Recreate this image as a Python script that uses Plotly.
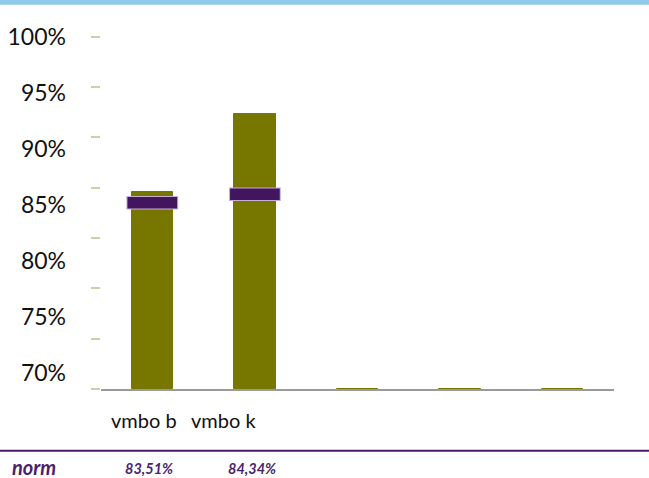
import plotly.graph_objects as go

# ---- data ----
categories = ["vmbo b", "vmbo k", "", "", ""]
scores = [84.6, 92.3, 0, 0, 0]          # % (bars)
norm = [83.51, 84.34]                   # % (norm markers, first two categories)
tick_values = [65, 70, 75, 80, 85, 90, 95, 100]
label_values = [70, 75, 80, 85, 90, 95, 100]
label_texts = ["70%", "75%", "80%", "85%", "90%", "95%", "100%"]

AXIS_MIN = 65
OLIVE = "#777700"
PURPLE = "#43155f"
TEXT_PURPLE = "#4b1f6f"
FONT = "Lato"

x_idx = list(range(len(categories)))

fig = go.Figure()

# bars (drawn from the axis minimum)
fig.add_trace(go.Bar(
    x=x_idx,
    y=[max(v, AXIS_MIN) - AXIS_MIN for v in scores],
    base=AXIS_MIN,
    width=0.405,
    marker=dict(color=OLIVE, line=dict(color=OLIVE, width=1)),
    cliponaxis=False,
    hoverinfo="skip",
    showlegend=False,
))

# norm markers: faint halo then dark bar
fig.add_trace(go.Scatter(
    x=x_idx[:len(norm)], y=norm, mode="markers",
    marker=dict(symbol="line-ew-open", size=37, color="#c4b0d4",
                line=dict(color="#c4b0d4", width=13.5)),
    hoverinfo="skip", showlegend=False,
))
fig.add_trace(go.Scatter(
    x=x_idx[:len(norm)], y=norm, mode="markers",
    marker=dict(symbol="line-ew-open", size=35.5, color=PURPLE,
                line=dict(color=PURPLE, width=11.5)),
    hoverinfo="skip", showlegend=False,
))

# invisible trace for the label axis
fig.add_trace(go.Scatter(x=[None], y=[None], yaxis="y2", showlegend=False, hoverinfo="skip"))

# category labels
label_shift = [-8, -31, 0, 0, 0]
for i, c in enumerate(categories):
    if c:
        fig.add_annotation(x=i, y=-0.083, xref="x", yref="paper", text=c,
                           showarrow=False, xshift=label_shift[i],
                           xanchor="center", yanchor="middle",
                           font=dict(family=FONT, size=20, color="#111111"))

# norm row
fig.add_annotation(x=-0.1774, y=-0.2104, xref="paper", yref="paper", text="<b><i>norm</i></b>",
                   showarrow=False, xanchor="left", yanchor="middle",
                   font=dict(family=FONT, size=20, color=TEXT_PURPLE))
for i, v in enumerate(norm):
    fig.add_annotation(x=i, y=-0.2145, xref="x", yref="paper",
                       text="<b><i>" + f"{v:.2f}%".replace(".", ",") + "</i></b>",
                       showarrow=False, xshift=-3, xanchor="center", yanchor="middle",
                       font=dict(family=FONT, size=14.5, color=TEXT_PURPLE))

# norm separator line and top band
fig.add_shape(type="line", xref="paper", yref="paper", x0=-0.1969, x1=1.0682,
              y0=-0.1672, y1=-0.1672, line=dict(color="#4a1a6a", width=2))
fig.add_shape(type="rect", xref="paper", yref="paper", x0=-0.1969, x1=1.0682,
              y0=1.0415, y1=1.0600, line=dict(width=0), fillcolor="#8fcbe8")

fig.update_layout(
    template="none",
    width=649, height=478,
    margin=dict(l=101, r=35, t=20, b=89, pad=0),
    paper_bgcolor="white", plot_bgcolor="white",
    bargap=0,
    xaxis=dict(range=[-0.5, 4.5], showticklabels=False, ticks="", showgrid=False,
               zeroline=False, showline=True, linecolor="#9a9a9a", linewidth=2,
               fixedrange=True, automargin=False),
    yaxis=dict(range=[AXIS_MIN, 101.66], tickvals=tick_values, showticklabels=False,
               ticks="outside", ticklen=9, tickwidth=2, tickcolor="#cfcfa6",
               showgrid=False, zeroline=False, showline=False, automargin=False),
    yaxis2=dict(range=[68.54, 101.52], overlaying="y", side="left", anchor="x",
                tickvals=label_values, ticktext=label_texts, ticks="",
                ticklabelstandoff=34, showgrid=False, zeroline=False, showline=False,
                automargin=False,
                tickfont=dict(family=FONT, size=23, color="#111111")),
)

fig.write_html("out.html", config={"displayModeBar": False},
               post_script="document.body.style.margin='0';document.body.style.padding='0';")
